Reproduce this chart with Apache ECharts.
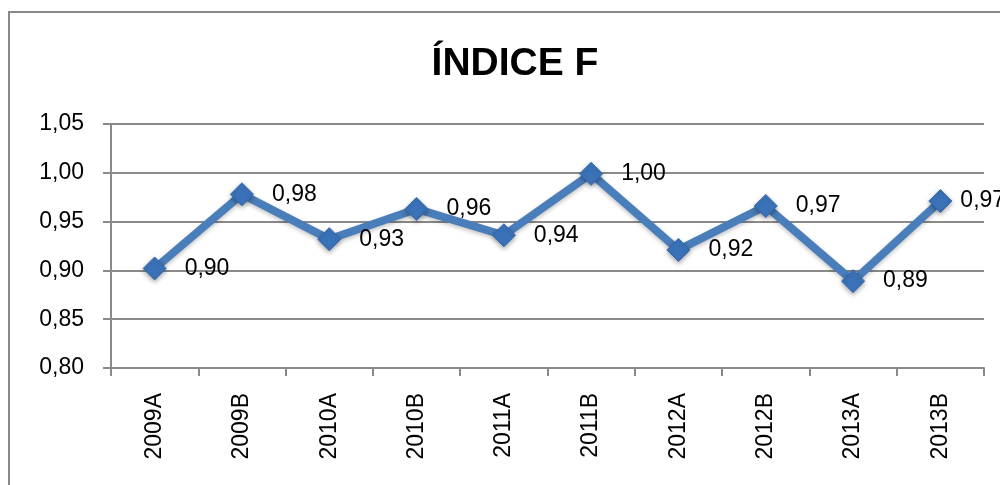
<!DOCTYPE html>
<html>
<head>
<meta charset="utf-8">
<title>ÍNDICE F</title>
<script src="https://cdn.jsdelivr.net/npm/echarts@6/dist/echarts.min.js"></script>
<style>
  html, body { margin: 0; padding: 0; background: #fff; }
  #chart { width: 1000px; height: 485px; }
</style>
</head>
<body>
<div id="chart"></div>
<script>
const categories = ['2009A', '2009B', '2010A', '2010B', '2011A', '2011B', '2012A', '2012B', '2013A', '2013B'];
const indiceF = [0.902, 0.978, 0.932, 0.963, 0.936, 0.999, 0.921, 0.966, 0.889, 0.971];
const yTicks = [0.80, 0.85, 0.90, 0.95, 1.00, 1.05];

const fmt = v => v.toFixed(2).replace('.', ',');
const font = 'Liberation Sans';

const chart = echarts.init(document.getElementById('chart'));

// last label sits tighter to its point, as in the original
const seriesData = indiceF.map((v, i) => (
  i === indiceF.length - 1 ? { value: v, label: { distance: 8 } } : v
));

chart.setOption({
  animation: false,
  textStyle: { fontFamily: font },
  graphic: [{
    type: 'rect',
    shape: { x: 9, y: 12, width: 1100, height: 600 },
    style: { fill: 'none', stroke: '#8a8a8a', lineWidth: 2 },
    silent: true,
    z: -1
  }],
  title: {
    text: 'ÍNDICE F',
    left: 510,
    top: 40,
    textAlign: 'center',
    textStyle: { fontFamily: font, fontWeight: 'bold', fontSize: 39, color: '#000' }
  },
  grid: { left: 111, right: 16, top: 124, bottom: 117 },
  xAxis: {
    type: 'category',
    data: categories,
    boundaryGap: true,
    axisLine: { lineStyle: { color: '#8a8a8a', width: 2 } },
    axisTick: { show: true, length: 8, lineStyle: { color: '#8a8a8a', width: 2 } },
    axisLabel: { rotate: 90, margin: 25, fontSize: 23, color: '#000', fontFamily: font }
  },
  yAxis: {
    type: 'value',
    min: yTicks[0],
    max: yTicks[yTicks.length - 1],
    interval: 0.05,
    axisLine: { show: true, lineStyle: { color: '#8a8a8a', width: 2 } },
    axisTick: { show: true, length: 8, lineStyle: { color: '#8a8a8a', width: 2 } },
    axisLabel: { margin: 27, fontSize: 23, color: '#000', fontFamily: font, formatter: v => fmt(v) },
    splitLine: { lineStyle: { color: '#8a8a8a', width: 2 } }
  },
  series: [{
    name: 'Índice F',
    type: 'line',
    data: seriesData,
    symbol: 'diamond',
    symbolSize: 23,
    lineStyle: {
      color: '#4a7ebb', width: 8,
      shadowBlur: 4, shadowColor: 'rgba(0,0,0,0.25)', shadowOffsetY: 2
    },
    itemStyle: {
      color: '#3b73ba',
      borderColor: '#3568ab', borderWidth: 1,
      shadowBlur: 5, shadowColor: 'rgba(0,0,0,0.35)', shadowOffsetY: 2
    },
    label: {
      show: true,
      position: 'right',
      distance: 18,
      fontSize: 23,
      color: '#000',
      fontFamily: font,
      formatter: p => fmt(p.value)
    }
  }]
});
</script>
</body>
</html>
